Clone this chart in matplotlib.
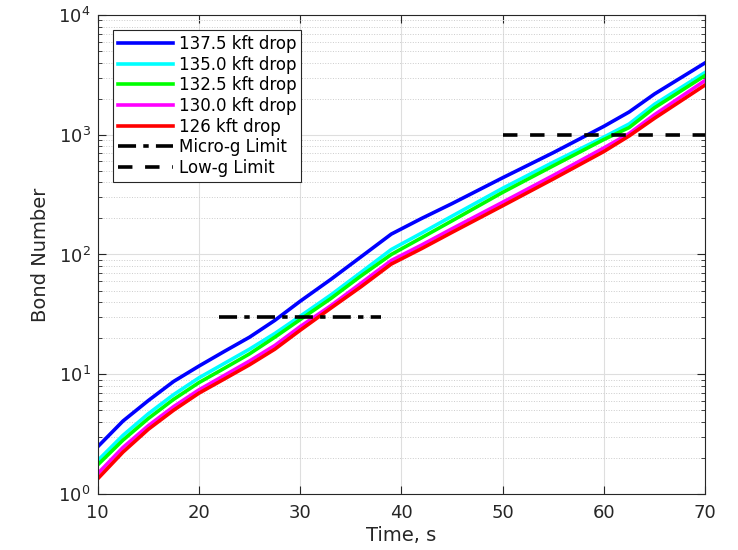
import numpy as np
import matplotlib
matplotlib.use('Agg')
import matplotlib.pyplot as plt

'''data read off the reference'''
t = [10, 12.5, 15, 17.5, 20, 22.5, 25, 27.5, 30, 33, 36, 39, 42, 45, 50, 55, 60, 62.5, 65, 70]
bo_1375 = [2.48, 4.07, 6.03, 8.71, 11.7, 15.5, 20.4, 28.2, 40.7, 61.7, 95.5, 148, 200, 266, 437, 708, 1175, 1549, 2188, 3981]
bo_1350 = [1.90, 3.09, 4.68, 6.76, 9.33, 12.3, 16.2, 21.9, 30.5, 45.7, 70.8, 110, 151, 209, 357, 589, 955, 1230, 1795, 3311]
bo_1325 = [1.75, 2.82, 4.27, 6.17, 8.51, 11.2, 14.8, 20.4, 28.6, 42.7, 66.1, 100, 138, 191, 330, 550, 912, 1148, 1679, 3119]
bo_1300 = [1.48, 2.45, 3.72, 5.37, 7.41, 9.77, 12.9, 17.4, 25.0, 37.2, 57.5, 89.1, 120, 164, 273, 457, 776, 1023, 1469, 2838]
bo_1260 = [1.34, 2.24, 3.47, 5.01, 6.95, 9.12, 12.0, 16.2, 23.3, 35.5, 53.7, 83.2, 112, 153, 255, 427, 724, 977, 1371, 2600]
labels = ['137.5 kft drop', '135.0 kft drop', '132.5 kft drop', '130.0 kft drop', '126 kft drop']

micro_t = [22, 38]
micro_lim = [30, 30]
low_t = [50, 70]
low_lim = [1000, 1000]

plt.rcParams['font.family'] = ['DejaVu Sans']
fig = plt.figure(figsize=(7.38, 5.5), dpi=100)
ax = fig.add_axes([0.1324, 0.1018, 0.823, 0.871])

colors = ['#0000ff', '#00ffff', '#00ff00', '#ff00ff', '#ff0000']
for y, c, lab in zip([bo_1375, bo_1350, bo_1325, bo_1300, bo_1260], colors, labels):
    ax.plot(t, y, color=c, lw=2.6, label=lab)
ax.plot(micro_t, micro_lim, color='k', lw=2.6, ls=(0, (5, 2, 1.5, 2)), label='Micro-g Limit')
ax.plot(low_t, low_lim, color='k', lw=2.6, ls=(0, (4, 3.5)), label='Low-g Limit')

ax.set_yscale('log')
ax.set_xlim(10, 70)
ax.set_ylim(1, 1e4)
ax.set_xticks([10, 20, 30, 40, 50, 60, 70])
ax.grid(True, which='major', color='#dedede', lw=0.8)
ax.grid(True, which='minor', axis='y', color='#cccccc', lw=0.7, ls=':')
ax.set_axisbelow(True)
ax.tick_params(which='both', direction='in', top=True, right=True, labelsize=13, colors='#262626')
ax.tick_params(which='major', length=6)
ax.tick_params(which='minor', length=3)
ax.tick_params(axis='x', pad=7)
ax.tick_params(axis='y', pad=5)
for s in ax.spines.values():
    s.set_color('#262626')
    s.set_linewidth(0.8)
ax.set_xlabel('Time, s', fontsize=14, color='#262626', labelpad=3)
ax.set_ylabel('Bond Number', fontsize=14, color='#262626', labelpad=6)

leg = ax.legend(loc='upper left', fontsize=12, fancybox=False, framealpha=1,
                edgecolor='#262626', handlelength=3.3, borderaxespad=0.9,
                labelspacing=0.16, handletextpad=0.35, borderpad=0.3)
leg.get_frame().set_linewidth(0.8)

fig.savefig('out.png', dpi=100)
